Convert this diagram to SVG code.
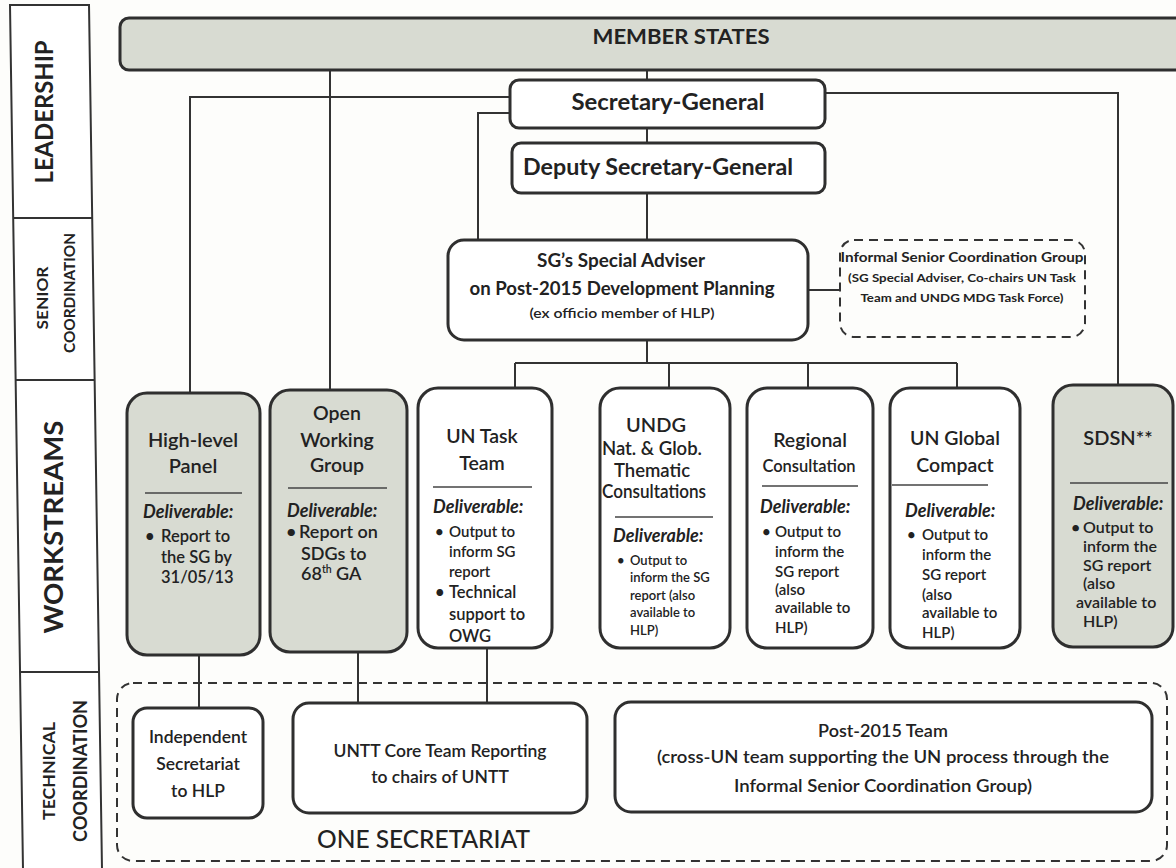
<svg xmlns="http://www.w3.org/2000/svg" width="1176" height="868" viewBox="0 0 1176 868">
<style>
text{font-family:Lato,"Liberation Sans",sans-serif;fill:#222;}
.side{font-weight:700;}
.box{fill:#fff;stroke:#2f2f2f;stroke-width:3;}
.grey{fill:#d8dbd2;}
.dash{fill:none;stroke:#333;stroke-width:2;stroke-dasharray:9 6;}
.conn path{fill:none;stroke:#333;stroke-width:2;}
.sep{stroke:#444;stroke-width:1.5;}
.hd{font-weight:700;text-anchor:middle;}
.t{font-weight:600;text-anchor:middle;}
.del{font-size:18px;font-weight:700;font-style:italic;}
.b{font-weight:600;}
.c{text-anchor:middle;font-weight:600;}
</style>
<rect x="0" y="0" width="1176" height="868" fill="#fdfdfb"/>

<g id="sidebar">
<polygon points="10,5 89,5 102,870 23,870" fill="#fff" stroke="#333" stroke-width="2"/>
<line x1="13" y1="218" x2="92" y2="218" stroke="#333" stroke-width="2"/>
<line x1="15" y1="380" x2="95" y2="380" stroke="#333" stroke-width="2"/>
<line x1="20" y1="672" x2="99" y2="672" stroke="#333" stroke-width="2"/>
<text class="side" font-size="25" text-anchor="middle" textLength="143" lengthAdjust="spacingAndGlyphs" transform="translate(53,112) rotate(-90)">LEADERSHIP</text>
<text class="side" font-size="16" text-anchor="middle" textLength="63" lengthAdjust="spacingAndGlyphs" transform="translate(48,298) rotate(-90)">SENIOR</text>
<text class="side" font-size="16" text-anchor="middle" textLength="120" lengthAdjust="spacingAndGlyphs" transform="translate(75,293) rotate(-90)">COORDINATION</text>
<text class="side" font-size="27" text-anchor="middle" textLength="213" lengthAdjust="spacingAndGlyphs" transform="translate(63,527) rotate(-90)">WORKSTREAMS</text>
<text class="side" font-size="17" text-anchor="middle" textLength="98" lengthAdjust="spacingAndGlyphs" transform="translate(55,771) rotate(-90)">TECHNICAL</text>
<text class="side" font-size="18" text-anchor="middle" textLength="142" lengthAdjust="spacingAndGlyphs" transform="translate(87,771) rotate(-90)">COORDINATION</text>
</g>

<g id="connectors" class="conn">
<path d="M647,70 V80"/>
<path d="M647,128 V143"/>
<path d="M647,193 V240"/>
<path d="M510,97 H190 V393"/>
<path d="M330,70 V390"/>
<path d="M510,113 H478 V240"/>
<path d="M825,93 H1118 V385"/>
<path d="M808,290 H840"/>
<path d="M647,340 V363"/>
<path d="M515,363 H957"/>
<path d="M515,363 V388"/>
<path d="M669,363 V388"/>
<path d="M808,363 V388"/>
<path d="M957,363 V388"/>
<path d="M199,655 V708"/>
<path d="M358,652 V703"/>
<path d="M487,648 V703"/>
</g>

<g id="member-states">
<rect x="120" y="18" width="1075" height="52" rx="9" class="box grey"/>
<text class="hd" x="681" y="44" font-size="20" textLength="177" lengthAdjust="spacingAndGlyphs">MEMBER STATES</text>
</g>

<g id="secretary-general">
<rect x="510" y="80" width="315" height="48" rx="9" class="box"/>
<text class="hd" x="668" y="110" font-size="22" textLength="193" lengthAdjust="spacingAndGlyphs">Secretary-General</text>
</g>

<g id="deputy-secretary-general">
<rect x="512" y="143" width="313" height="50" rx="9" class="box"/>
<text class="hd" x="658" y="175" font-size="22" textLength="270" lengthAdjust="spacingAndGlyphs">Deputy Secretary-General</text>
</g>

<g id="special-adviser">
<rect x="448" y="240" width="360" height="100" rx="16" class="box"/>
<text class="hd" x="621" y="267" font-size="18" textLength="168" lengthAdjust="spacingAndGlyphs">SG’s Special Adviser</text>
<text class="hd" x="622" y="295" font-size="18" textLength="305" lengthAdjust="spacingAndGlyphs">on Post-2015 Development Planning</text>
<text class="c" x="622" y="318" font-size="14" textLength="185" lengthAdjust="spacingAndGlyphs">(ex officio member of HLP)</text>
</g>

<g id="informal-senior-coordination-group">
<rect x="840" y="240" width="245" height="97" rx="14" class="dash"/>
<text class="hd" x="962" y="262" font-size="13.5" textLength="243" lengthAdjust="spacingAndGlyphs">Informal Senior Coordination Group</text>
<text class="hd" x="962" y="282" font-size="12" textLength="228" lengthAdjust="spacingAndGlyphs">(SG Special Adviser, Co-chairs UN Task</text>
<text class="hd" x="962" y="302" font-size="12" textLength="203" lengthAdjust="spacingAndGlyphs">Team and UNDG MDG Task Force)</text>
</g>

<g id="high-level-panel" font-size="16.5">
<rect x="127" y="393" width="133" height="262" rx="20" class="box grey"/>
<text class="t" x="193" y="447" font-size="20">High-level</text>
<text class="t" x="193" y="473" font-size="20">Panel</text>
<line x1="145" y1="493" x2="242" y2="493" class="sep"/>
<text class="del" x="143" y="518">Deliverable:</text>
<text class="b" x="145" y="542">•</text>
<text class="b" x="161" y="542">Report to</text>
<text class="b" x="161" y="563">the SG by</text>
<text class="b" x="161" y="583">31/05/13</text>
</g>

<g id="open-working-group" font-size="18">
<rect x="270" y="390" width="137" height="262" rx="20" class="box grey"/>
<text class="t" x="337" y="420" font-size="19.5">Open</text>
<text class="t" x="337" y="447" font-size="19.5">Working</text>
<text class="t" x="337" y="472" font-size="19.5">Group</text>
<line x1="288" y1="488" x2="387" y2="488" class="sep"/>
<text class="del" x="287" y="517">Deliverable:</text>
<text class="b" x="286" y="538">•</text>
<text class="b" x="299" y="538">Report on</text>
<text class="b" x="301" y="560">SDGs to</text>
<text class="b" x="301" y="580">68<tspan font-size="10.5" dy="-7">th</tspan><tspan dy="7"> GA</tspan></text>
</g>

<g id="un-task-team" font-size="15">
<rect x="418" y="388" width="134" height="260" rx="20" class="box"/>
<text class="t" x="482" y="443" font-size="19.5">UN Task</text>
<text class="t" x="482" y="470" font-size="19.5">Team</text>
<line x1="433" y1="487" x2="532" y2="487" class="sep"/>
<text class="del" x="433" y="513">Deliverable:</text>
<text class="b" x="435" y="537">•</text>
<text class="b" x="449" y="537">Output to</text>
<text class="b" x="449" y="557">inform SG</text>
<text class="b" x="449" y="577">report</text>
<text class="b" x="435" y="598" font-size="16.5">•</text>
<text class="b" x="449" y="598" font-size="16.5">Technical</text>
<text class="b" x="449" y="620" font-size="16.5">support to</text>
<text class="b" x="449" y="642" font-size="16.5">OWG</text>
</g>

<g id="undg" font-size="13">
<rect x="600" y="388" width="130" height="260" rx="20" class="box"/>
<text class="t" x="656" y="432" font-size="20">UNDG</text>
<text class="t" x="652" y="455" font-size="18.5">Nat. &amp; Glob.</text>
<text class="t" x="652" y="477" font-size="18.5">Thematic</text>
<text class="t" x="654" y="498" font-size="18.5" textLength="104" lengthAdjust="spacingAndGlyphs">Consultations</text>
<line x1="615" y1="517" x2="713" y2="517" class="sep"/>
<text class="del" x="613" y="542">Deliverable:</text>
<text class="b" x="617" y="565">•</text>
<text class="b" x="630" y="565">Output to</text>
<text class="b" x="630" y="582">inform the SG</text>
<text class="b" x="630" y="600">report (also</text>
<text class="b" x="630" y="617">available to</text>
<text class="b" x="630" y="635">HLP)</text>
</g>

<g id="regional-consultation" font-size="15">
<rect x="747" y="388" width="126" height="260" rx="20" class="box"/>
<text class="t" x="810" y="447" font-size="19.5">Regional</text>
<text class="t" x="809" y="472" font-size="16.5">Consultation</text>
<line x1="762" y1="486" x2="858" y2="486" class="sep"/>
<text class="del" x="760" y="513">Deliverable:</text>
<text class="b" x="762" y="537">•</text>
<text class="b" x="775" y="537">Output to</text>
<text class="b" x="775" y="557">inform the</text>
<text class="b" x="775" y="577">SG report</text>
<text class="b" x="775" y="595">(also</text>
<text class="b" x="775" y="613">available to</text>
<text class="b" x="775" y="633">HLP)</text>
</g>

<g id="un-global-compact" font-size="15">
<rect x="890" y="388" width="130" height="260" rx="20" class="box"/>
<text class="t" x="955" y="445" font-size="19.5">UN Global</text>
<text class="t" x="955" y="472" font-size="19.5">Compact</text>
<line x1="892" y1="485" x2="988" y2="485" class="sep"/>
<text class="del" x="905" y="517">Deliverable:</text>
<text class="b" x="907" y="540">•</text>
<text class="b" x="922" y="540">Output to</text>
<text class="b" x="922" y="560">inform the</text>
<text class="b" x="922" y="580">SG report</text>
<text class="b" x="922" y="600">(also</text>
<text class="b" x="922" y="618">available to</text>
<text class="b" x="922" y="638">HLP)</text>
</g>

<g id="sdsn" font-size="16">
<rect x="1053" y="385" width="120" height="262" rx="20" class="box grey"/>
<text class="t" x="1118" y="445" font-size="20">SDSN**</text>
<line x1="1070" y1="483" x2="1168" y2="483" class="sep"/>
<text class="del" x="1073" y="510">Deliverable:</text>
<text class="b" x="1071" y="533">•</text>
<text class="b" x="1083" y="533">Output to</text>
<text class="b" x="1083" y="552">inform the</text>
<text class="b" x="1083" y="571">SG report</text>
<text class="b" x="1083" y="589">(also</text>
<text class="b" x="1076" y="608">available to</text>
<text class="b" x="1083" y="627">HLP)</text>
</g>

<g id="one-secretariat">
<rect x="117" y="683" width="1050" height="178" rx="16" class="dash"/>
<text x="317" y="848" font-size="25" font-weight="500" textLength="213" lengthAdjust="spacingAndGlyphs">ONE SECRETARIAT</text>
</g>

<g id="independent-secretariat">
<rect x="133" y="708" width="130" height="110" rx="14" class="box"/>
<text class="c" x="198" y="743" font-size="17.5">Independent</text>
<text class="c" x="198" y="770" font-size="17.5">Secretariat</text>
<text class="c" x="198" y="797" font-size="17.5">to HLP</text>
</g>

<g id="untt-core-team">
<rect x="293" y="703" width="294" height="110" rx="16" class="box"/>
<text class="c" x="440" y="757" font-size="17.5" textLength="213" lengthAdjust="spacingAndGlyphs">UNTT Core Team Reporting</text>
<text class="c" x="440" y="783" font-size="17.5">to chairs of UNTT</text>
</g>

<g id="post-2015-team">
<rect x="615" y="702" width="537" height="110" rx="16" class="box"/>
<text class="c" x="883" y="737" font-size="18">Post-2015 Team</text>
<text class="c" x="883" y="763" font-size="18" textLength="452" lengthAdjust="spacingAndGlyphs">(cross-UN team supporting the UN process through the</text>
<text class="c" x="883" y="792" font-size="18" textLength="298" lengthAdjust="spacingAndGlyphs">Informal Senior Coordination Group)</text>
</g>
</svg>
